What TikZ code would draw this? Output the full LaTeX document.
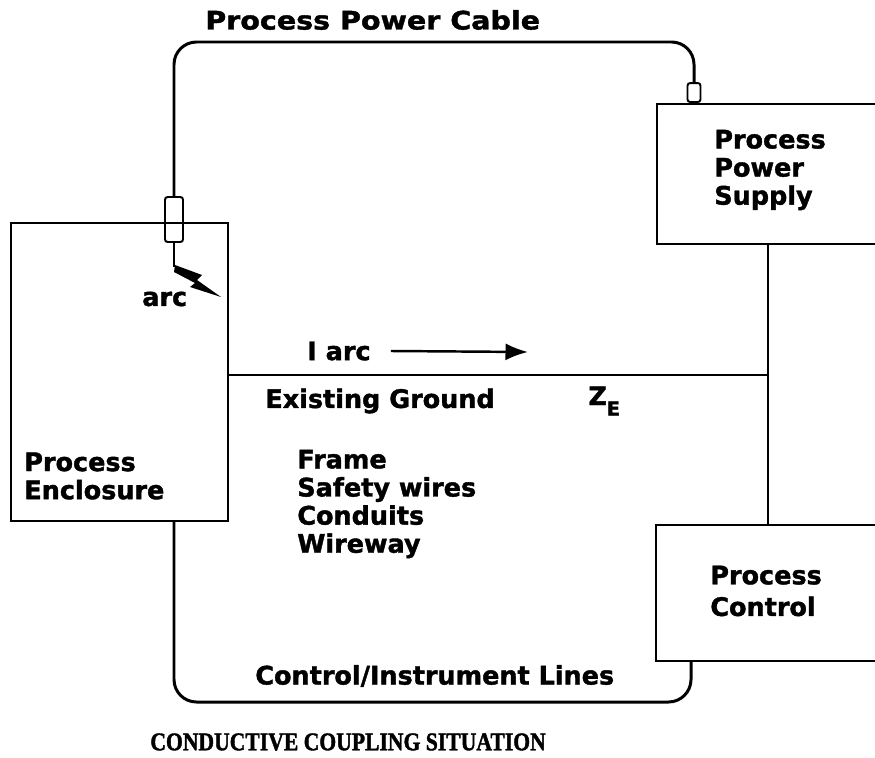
\documentclass[tikz,border=0pt]{standalone}
\usepackage{fontspec}
\usepackage{tikz}
\usetikzlibrary{positioning,arrows.meta}
\newfontfamily\labelfont[BoldFeatures={FakeBold=1.5}]{DejaVu Sans}
\newfontfamily\titlefont[FakeStretch=1.12,BoldFeatures={FakeBold=1.5}]{DejaVu Sans}
\newfontfamily\capfont[FakeStretch=0.85,BoldFeatures={FakeBold=1.5}]{Liberation Serif}

\begin{document}
\begin{tikzpicture}[x=0.02cm, y=-0.02cm, >=Latex,
    font=\labelfont\bfseries\fontsize{14.5}{16}\selectfont,
    unit/.style={draw, line width=1.1pt, inner sep=0pt, anchor=north west},
    plug/.style={draw, line width=1.1pt, inner sep=0pt, rounded corners=1.5pt},
    cable/.style={line width=1.7pt, rounded corners=0.45cm},
    wire/.style={line width=1.2pt},
    flow/.style={line width=1.4pt, -{Latex[length=0.45cm,width=0.34cm]}},
    lbl/.style={anchor=west, inner sep=0pt, align=left}]
  \useasboundingbox (0,0) rectangle (875,757);
  % boxes
  \node[unit, minimum width=4.34cm, minimum height=5.96cm] (encl) at (10,222) {};
  \node[unit, minimum width=4.7cm, minimum height=2.8cm] (pps) at (656,103) {};
  \node[unit, minimum width=4.7cm, minimum height=2.72cm] (ctrl) at (655,524) {};
  \node[lbl] (encltext) at (24,476) {Process\\Enclosure};
  \node[lbl] (ppstext) at (714,170) {Process\\Power\\Supply};
  \node[lbl, font=\labelfont\bfseries\fontsize{14.5}{18}\selectfont] (ctrltext) at (710,591) {Process\\Control};
  % power cable with its plugs
  \node[plug, minimum width=0.36cm, minimum height=0.9cm] (plug1) at (174,219.5) {};
  \node[plug, minimum width=0.26cm, minimum height=0.38cm, anchor=south] (plug2) at (694,103) {};
  \coordinate (ctop) at (430,42);
  \draw[cable] (plug1.north) |- (ctop) -| (plug2.north);
  \node[anchor=west, inner sep=0pt, font=\titlefont\bfseries\fontsize{14.5}{16}\selectfont] (title) at (205,20) {Process Power Cable};
  % arc inside the enclosure
  \coordinate (spark) at (174,267);
  \draw[wire] (plug1.south) -- (spark);
  \fill (175,265) -- (202,275) -- (197,280) -- (221,297) -- (190,287) -- (195,283) -- (174,272) -- cycle;
  \node[lbl] (arc) at (142,299) {arc};
  % existing ground
  \coordinate (gnd) at (768,375);
  \draw[wire] (encl.east |- gnd) -- (gnd);
  \draw[wire] (pps.south -| gnd) -- (ctrl.north -| gnd);
  \node[lbl] (iarc) at (307,351) {I arc};
  \coordinate (iarcend) at (528,352);
  \draw[flow] ([xshift=0.4cm]iarc.east) -- (iarcend);
  \node[lbl] (ground) at (265,401) {Existing Ground};
  \node[lbl] (zE) at (588,401) {Z\raisebox{-6pt}{\fontsize{11}{10}\selectfont E}};
  \node[lbl] (parts) at (297,504) {Frame\\Safety wires\\Conduits\\Wireway};
  % control lines
  \coordinate (cbot) at (430,702); \coordinate (ctrlin) at (691,660);
  \draw[cable] (encl.south -| plug1.south) |- (cbot) -| (ctrlin);
  \node[lbl] (lines) at (255,676) {Control/Instrument Lines};
  \node[anchor=west, inner sep=0pt, font=\capfont\bfseries\fontsize{14.5}{16}\selectfont] (caption) at (150,742) {CONDUCTIVE COUPLING SITUATION};
\end{tikzpicture}
\end{document}
